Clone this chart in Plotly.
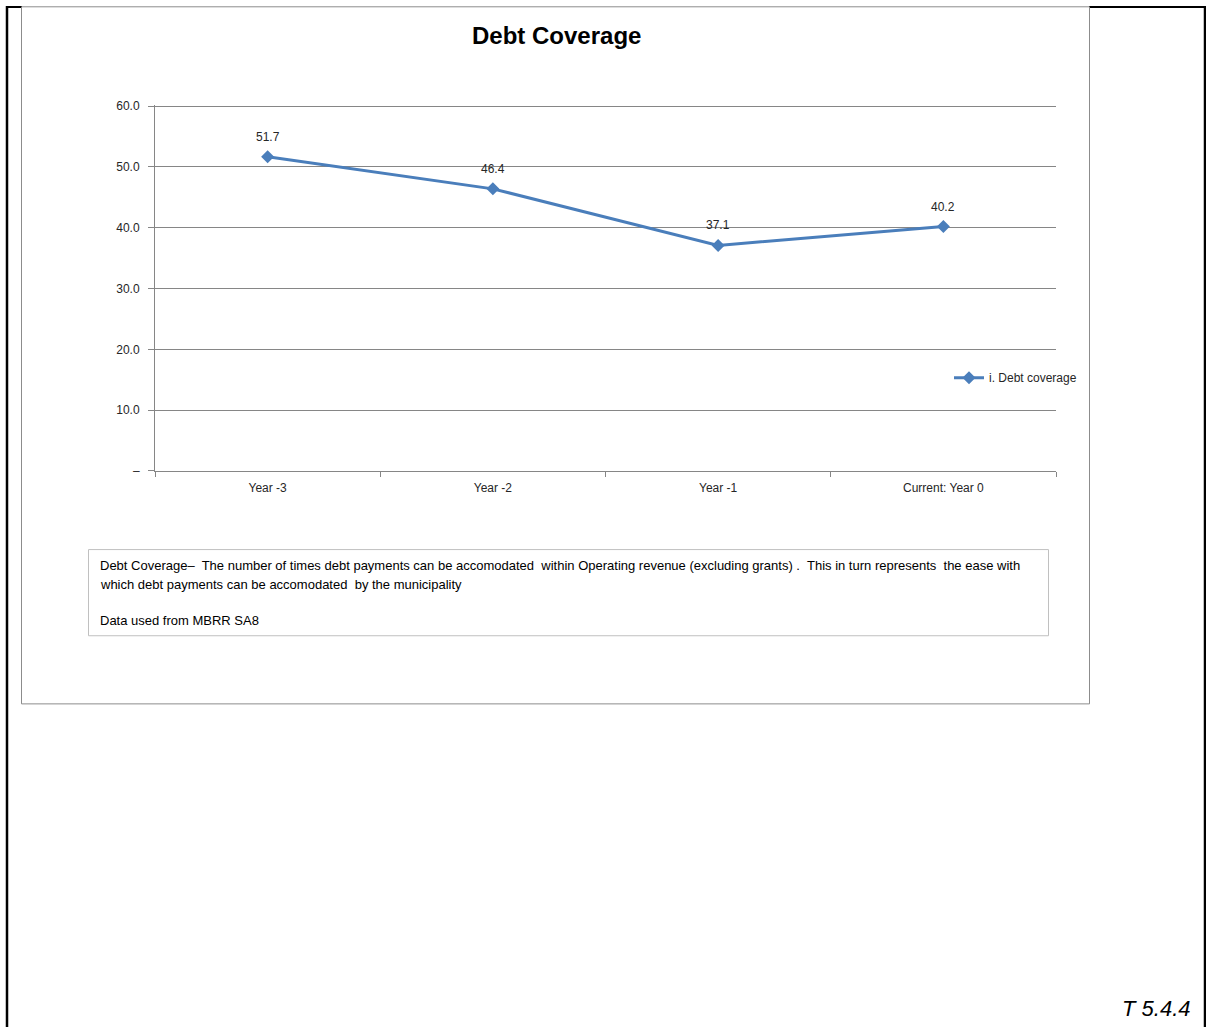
import plotly.graph_objects as go

categories = ["Year -3", "Year -2", "Year -1", "Current: Year 0"]
debt_coverage = [51.7, 46.4, 37.1, 40.2]
y_tick_values = [0, 10, 20, 30, 40, 50, 60]
y_tick_labels = ["–", "10.0", "20.0", "30.0", "40.0", "50.0", "60.0"]
series_name = "i. Debt coverage"

W, H = 1206, 1027
FONT = "Liberation Sans Narrow, Arial Narrow, Liberation Sans, Arial, sans-serif"
LINE_BLUE = "#4A7EBB"
AXIS_GREY = "#868686"

# The rendered figure occupies vertical pixels ~7..1019 of the photo; map target
# photo pixels to paper fractions accordingly.
TOP_OFF, EFF_H = 7.0, 1012.0

Y_MAX = 60.2  # slightly above 60 so that the 60 gridline is drawn
PX_PER_UNIT = (471 - 107) / 60.0


def px(x):
    return x / W


def py(y):
    return 1 - (y - TOP_OFF) / EFF_H


fig = go.Figure()
fig.add_trace(go.Scatter(
    x=categories, y=debt_coverage, mode="lines+markers",
    name=series_name,
    line=dict(color=LINE_BLUE, width=3),
    marker=dict(symbol="diamond", size=10, color=LINE_BLUE),
))

# data labels above each point, positioned from the data
label_annotations = [
    dict(x=c, y=v, xref="x", yref="y", text=f"{v:.1f}", showarrow=False,
         yshift=20, font=dict(size=12, color="#262626", family=FONT))
    for c, v in zip(categories, debt_coverage)
]

plot_top_px = 471 - Y_MAX * PX_PER_UNIT

fig.update_layout(
    width=W, height=H,
    margin=dict(l=0, r=0, t=0, b=0),
    paper_bgcolor="white", plot_bgcolor="white",
    font=dict(family=FONT, size=12, color="#262626"),
    showlegend=True,
    legend=dict(x=px(949), y=py(378), xanchor="left", yanchor="middle",
                bgcolor="rgba(0,0,0,0)", font=dict(size=12, color="#262626", family=FONT),
                itemwidth=30, tracegroupgap=0),
    xaxis=dict(domain=[px(155), px(1056)], type="category", tickson="boundaries",
               showline=True, linecolor=AXIS_GREY, linewidth=1,
               ticks="outside", ticklen=5, tickcolor=AXIS_GREY,
               ticklabelstandoff=6,
               showgrid=False, zeroline=False, range=[-0.5, 3.5],
               tickfont=dict(size=12, color="#262626", family=FONT)),
    yaxis=dict(domain=[py(471), py(plot_top_px)], range=[0, Y_MAX],
               tickvals=y_tick_values, ticktext=y_tick_labels,
               showline=True, linecolor=AXIS_GREY, linewidth=1,
               ticks="outside", ticklen=6, tickcolor=AXIS_GREY,
               ticklabelstandoff=6,
               showgrid=True, gridcolor=AXIS_GREY, gridwidth=1, zeroline=False,
               tickfont=dict(size=12, color="#262626", family=FONT)),
)

shapes = [
    # outer black frame
    dict(type="line", xref="paper", yref="paper", x0=px(7), x1=px(7), y0=py(7), y1=-0.05,
         line=dict(color="black", width=2.5)),
    dict(type="line", xref="paper", yref="paper", x0=px(1205), x1=px(1205), y0=py(7), y1=-0.05,
         line=dict(color="black", width=2.5)),
    dict(type="line", xref="paper", yref="paper", x0=px(6), x1=px(22), y0=py(8), y1=py(8),
         line=dict(color="black", width=2)),
    dict(type="line", xref="paper", yref="paper", x0=px(1089), x1=px(1206), y0=py(8), y1=py(8),
         line=dict(color="black", width=2)),
    # inner chart frame
    dict(type="rect", xref="paper", yref="paper", x0=px(21.5), x1=px(1089.5), y0=py(7.8), y1=py(703.5),
         line=dict(color="#8c8c8c", width=1)),
    # note box
    dict(type="rect", xref="paper", yref="paper", x0=px(88.5), x1=px(1048.5), y0=py(549.5), y1=py(635.5),
         line=dict(color="#c0c0c0", width=1)),
]
fig.update_layout(shapes=shapes)

note_font = dict(size=13, color="black", family=FONT)
annotations = label_annotations + [
    dict(text="<b>Debt Coverage</b>", x=px(556), y=py(36), xref="paper", yref="paper",
         showarrow=False, xanchor="center", yanchor="middle",
         font=dict(size=24, color="black", family=FONT)),
    dict(text="Debt Coverage–  The number of times debt payments can be accomodated  within Operating revenue (excluding grants) .  This in turn represents  the ease with",
         x=px(98), y=py(565), xref="paper", yref="paper", showarrow=False,
         xanchor="left", yanchor="middle", font=note_font),
    dict(text="which debt payments can be accomodated  by the municipality",
         x=px(98), y=py(584), xref="paper", yref="paper", showarrow=False,
         xanchor="left", yanchor="middle", font=note_font),
    dict(text="Data used from MBRR SA8",
         x=px(98), y=py(620), xref="paper", yref="paper", showarrow=False,
         xanchor="left", yanchor="middle", font=note_font),
    dict(text="<i>T 5.4.4</i>", x=px(1192), y=py(1008), xref="paper", yref="paper",
         showarrow=False, xanchor="right", yanchor="middle",
         font=dict(size=22, color="black", family=FONT)),
]
fig.update_layout(annotations=annotations)

fig.write_html("out.html")
